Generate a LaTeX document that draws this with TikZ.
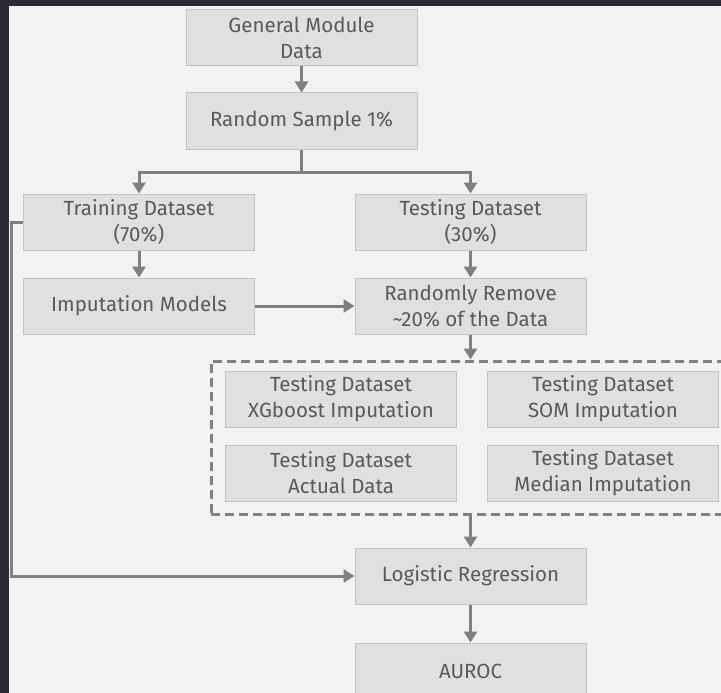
\documentclass[tikz,border=0pt]{standalone}
\usepackage{fontspec}
\setmainfont{Fira Sans}
\usetikzlibrary{arrows.meta}
\definecolor{bgc}{HTML}{F2F2F2}
\definecolor{framec}{HTML}{2A2A33}
\definecolor{boxc}{HTML}{E0E0E0}
\definecolor{boxline}{HTML}{C4C4C4}
\definecolor{txtc}{HTML}{5A5A5A}
\definecolor{arrc}{HTML}{808080}
\begin{document}
\begin{tikzpicture}[x=1pt,y=-1pt,
  boxnode/.style={draw=boxline,line width=1pt,fill=boxc,text=txtc,minimum width=231pt,minimum height=56pt,align=center,inner sep=0pt,font=\fontsize{20.5pt}{26pt}\selectfont},
  conn/.style={draw=arrc,line width=3pt,-{Triangle[width=13pt,length=11pt]}},
  plain/.style={draw=arrc,line width=3pt}]
\useasboundingbox (0,0) rectangle (721,693);
\clip (0,0) rectangle (721,693);
\fill[bgc] (0,0) rectangle (721,693);
\fill[framec] (0,0) rectangle (721,6);
\fill[framec] (0,0) rectangle (9,693);
% dashed group
\node[draw=arrc,line width=3pt,dash pattern=on 9pt off 5pt,minimum width=524pt,minimum height=153pt,inner sep=0pt] (grp) at (473,437.5) {};
\node[boxnode] (gm) at (301.5,38) {General Module\\Data};
\node[boxnode] (rs) at (301.5,121) {Random Sample 1\%};
\node[boxnode] (tr) at (139,222) {Training Dataset\\(70\%)};
\node[boxnode] (te) at (470.5,222) {Testing Dataset\\(30\%)};
\node[boxnode] (im) at (139,306) {Imputation Models};
\node[boxnode] (rr) at (470.5,306) {Randomly Remove\\\char`\~20\% of the Data};
\node[boxnode] (xg) at (341,399) {Testing Dataset\\XGboost Imputation};
\node[boxnode] (som) at (603,399) {Testing Dataset\\SOM Imputation};
\node[boxnode] (ad) at (341,473) {Testing Dataset\\Actual Data};
\node[boxnode] (med) at (603,473) {Testing Dataset\\Median Imputation};
\node[boxnode] (lr) at (470.5,576) {Logistic Regression};
\node[boxnode] (au) at (470.5,671) {AUROC};
\coordinate (split) at (301.5,172);
\coordinate (lft) at (11,222);
% connectors
\draw[conn] (gm) -- (rs);
\draw[plain] (rs.south) -- (split);
\draw[conn] (split) -| (tr.north);
\draw[conn] (split) -| (te.north);
\draw[conn] (tr) -- (im);
\draw[conn] (te) -- (rr);
\draw[conn] (im) -- (rr);
\draw[conn] (rr.south) -- (rr.south |- grp.north);
\draw[conn] (lr.north |- grp.south) -- (lr.north);
\draw[conn] (lr) -- (au);
\draw[conn] (tr.west) -- (lft) |- (lr.west);
\end{tikzpicture}
\end{document}
